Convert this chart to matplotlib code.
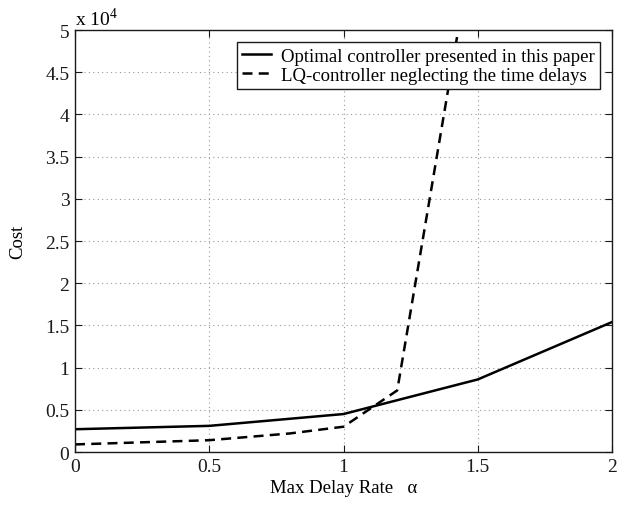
import matplotlib
matplotlib.use('Agg')
import matplotlib.pyplot as plt
from matplotlib.ticker import FuncFormatter
import numpy as np

plt.rcParams['font.family'] = ['Liberation Serif', 'DejaVu Serif']
plt.rcParams['mathtext.fontset'] = 'custom'
plt.rcParams['mathtext.rm'] = 'Liberation Serif'

# data
alpha_opt = [0, 0.5, 1.0, 1.5, 2.0]
cost_opt = [2700, 3100, 4500, 8600, 15400]

alpha_lq = [0, 0.5, 0.8, 1.0, 1.2, 1.5]
cost_lq = [900, 1400, 2200, 3000, 7300, 63700]

xticks = [0, 0.5, 1, 1.5, 2]
xticklabels = ['0', '0.5', '1', '1.5', '2']
yticks = np.arange(0, 50001, 5000)

fig = plt.figure(figsize=(6.22, 5.06), dpi=100)
ax = fig.add_axes([0.1206, 0.1047, 0.8634, 0.834])

ax.plot(alpha_opt, cost_opt, color='black', linewidth=1.8,
        label='Optimal controller presented in this paper')
ax.plot(alpha_lq, cost_lq, color='black', linewidth=1.8, dashes=[4, 2.5],
        label='LQ-controller neglecting the time delays')

ax.set_xlim(0, 2)
ax.set_ylim(0, 50000)
ax.set_xticks(xticks)
ax.set_xticklabels(xticklabels)
ax.set_yticks(yticks)
ax.yaxis.set_major_formatter(FuncFormatter(lambda v, p: '%g' % (v / 1e4)))

ax.grid(True, linestyle=(0, (1, 3)), color='#999999', linewidth=0.8)
ax.tick_params(direction='in', top=True, right=True, length=5, width=0.8,
               labelsize=14, colors='#1a1a1a', pad=4)
for s in ax.spines.values():
    s.set_linewidth(1.0)
    s.set_color('#1a1a1a')

ax.set_xlabel('Max Delay Rate   α', fontsize=13.5, labelpad=3)
ax.set_ylabel('Cost', fontsize=13.5, labelpad=14)
ax.text(0.0, 1.003, 'x 10$^{4}$', transform=ax.transAxes, fontsize=14,
        ha='left', va='bottom')

leg = ax.legend(loc='upper right', bbox_to_anchor=(0.978, 0.972), fontsize=13.5,
                frameon=True, fancybox=False, borderaxespad=0,
                handlelength=1.5, handletextpad=0.55, borderpad=0.3,
                labelspacing=0.1)
leg.get_frame().set_edgecolor('#1a1a1a')
leg.get_frame().set_linewidth(1.0)
leg.get_frame().set_alpha(1)

fig.savefig('out.png', dpi=100)
